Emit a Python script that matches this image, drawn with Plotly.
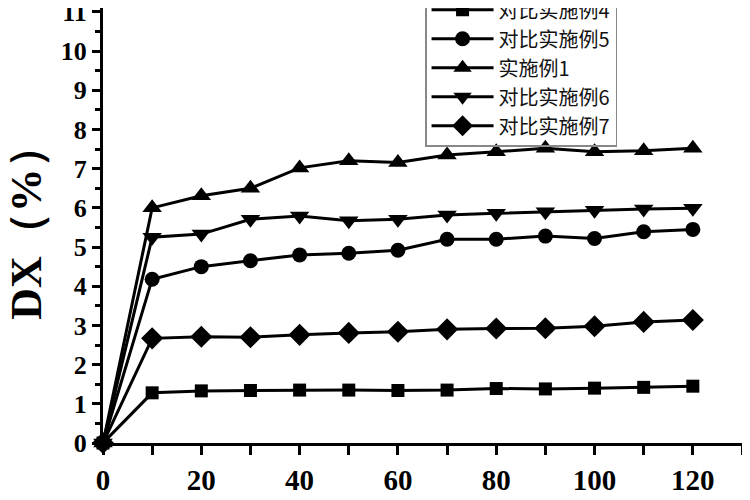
import plotly.graph_objects as go

# time points (x) and DX values (%)
x_vals = [0, 10, 20, 30, 40, 50, 60, 70, 80, 90, 100, 110, 120]

dx_comp4 = [0, 1.28, 1.33, 1.34, 1.35, 1.35, 1.34, 1.35, 1.39, 1.38, 1.40, 1.42, 1.45]
dx_comp5 = [0, 4.18, 4.50, 4.65, 4.80, 4.84, 4.92, 5.20, 5.20, 5.28, 5.22, 5.39, 5.45]
dx_ex1 = [0, 6.00, 6.31, 6.50, 7.02, 7.20, 7.16, 7.35, 7.43, 7.52, 7.43, 7.46, 7.52]
dx_comp6 = [0, 5.25, 5.33, 5.71, 5.79, 5.67, 5.71, 5.82, 5.86, 5.90, 5.94, 5.97, 5.99]
dx_comp7 = [0, 2.67, 2.71, 2.70, 2.76, 2.81, 2.84, 2.90, 2.92, 2.93, 2.98, 3.09, 3.14]

names = ["对比实施例4", "对比实施例5", "实施例1", "对比实施例6", "对比实施例7"]
series = [dx_comp4, dx_comp5, dx_ex1, dx_comp6, dx_comp7]
symbols = ["square", "circle", "triangle-up", "triangle-down", "diamond"]
sizes = [13, 15, 17, 17, 17]

fig = go.Figure()
for name, ys, sym, sz in zip(names, series, symbols, sizes):
    fig.add_trace(go.Scatter(
        x=x_vals, y=ys, name=name, mode="lines+markers",
        line=dict(color="black", width=3),
        marker=dict(symbol=sym, size=sz, color="black"),
        cliponaxis=False,
    ))

serif = "Liberation Serif, Times New Roman, serif"

# page has an 8px body margin, so the figure is a bit smaller than the window
fig.update_layout(
    width=742, height=492,
    paper_bgcolor="white", plot_bgcolor="white",
    margin=dict(l=95, r=8, t=0, b=57, autoexpand=False),
    showlegend=True,
    legend=dict(
        x=0.504, y=0.681, xanchor="left", yanchor="bottom",
        font=dict(family="Noto Sans CJK SC", size=20, color="#111"),
        bordercolor="#888", borderwidth=1.5, bgcolor="rgba(255,255,255,0)",
        tracegroupgap=0, itemwidth=62,
    ),
    xaxis=dict(
        range=[0, 130], tickmode="array", tickvals=[0, 20, 40, 60, 80, 100, 120],
        ticks="outside", ticklen=9, tickwidth=3, tickcolor="black",
        minor=dict(tickvals=[10, 30, 50, 70, 90, 110, 130], ticks="outside", ticklen=9, tickwidth=3, tickcolor="black"),
        showline=True, linecolor="black", linewidth=3,
        showgrid=False, zeroline=False,
        tickfont=dict(family=serif, size=29, color="black", weight="bold"),
    ),
    yaxis=dict(
        range=[0, 11.1], dtick=1, tick0=0,
        ticks="outside", ticklen=8, tickwidth=3, tickcolor="black",
        minor=dict(dtick=0.5, ticks="outside", ticklen=5, tickwidth=3, tickcolor="black"),
        showline=True, linecolor="black", linewidth=3, mirror=True,
        showgrid=False, zeroline=False, ticklabeloverflow="allow",
        tickfont=dict(family=serif, size=26, color="black", weight="bold"),
    ),
)

# y axis title as a rotated annotation so it can sit close to the left edge
fig.add_annotation(
    text="DX（%）", textangle=-90, showarrow=False,
    xref="paper", yref="paper", x=-0.121, y=0.508, xanchor="center", yanchor="middle",
    font=dict(family=serif, size=44, color="black", weight="bold"),
)

fig.write_html("out.html")
